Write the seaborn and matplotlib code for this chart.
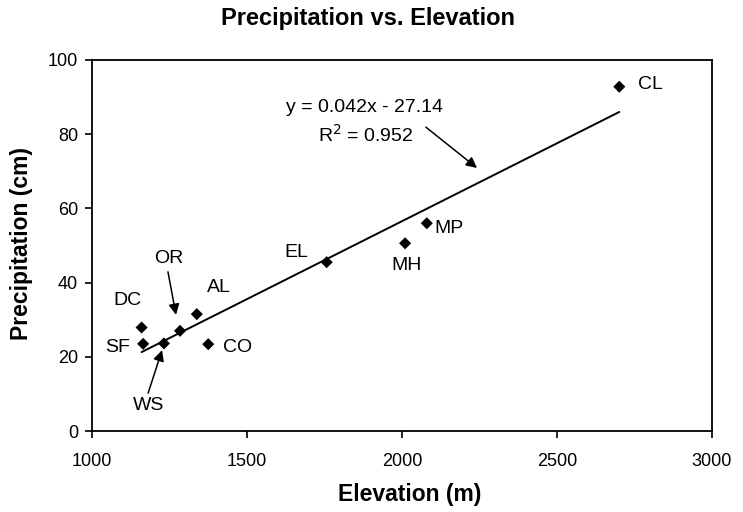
import matplotlib
matplotlib.use("Agg")
import matplotlib.pyplot as plt
import seaborn as sns
import pandas as pd

sites = ["DC", "SF", "WS", "OR", "AL", "CO", "EL", "MH", "MP", "CL"]
elevation = [1160, 1165, 1232, 1284, 1338, 1375, 1757, 2010, 2080, 2701]
precipitation = [27.9, 23.5, 23.6, 27.0, 31.5, 23.4, 45.5, 50.6, 56.0, 92.8]

x_ticks = [1000, 1500, 2000, 2500, 3000]
y_ticks = [0, 20, 40, 60, 80, 100]

df = pd.DataFrame({"Elevation": elevation, "Precipitation": precipitation, "Site": sites})

sns.set_theme(style="ticks")
plt.rcParams["font.family"] = ["Liberation Sans", "DejaVu Sans"]
plt.rcParams["text.color"] = "black"
plt.rcParams["axes.labelcolor"] = "black"

fig = plt.figure(figsize=(7.43, 5.12), dpi=100)
ax = fig.add_axes([92 / 743, 81 / 512, 620 / 743, 371 / 512])

sns.regplot(data=df, x="Elevation", y="Precipitation", ax=ax, ci=None, truncate=True,
            marker="D", color="black",
            scatter_kws={"s": 38, "edgecolor": "none", "alpha": 1, "zorder": 3},
            line_kws={"lw": 1.4, "color": "black", "zorder": 2})

ax.set_xlim(1000, 3000)
ax.set_ylim(0, 100)
ax.set_xticks(x_ticks)
ax.set_yticks(y_ticks)
ax.tick_params(direction="out", length=5, width=1.2, labelsize=13, colors="black",
               top=False, right=False, pad=5)
ax.tick_params(axis="x", pad=10.5)
for s in ax.spines.values():
    s.set_visible(True)
    s.set_color("black")
    s.set_linewidth(1.3)

ax.set_xlabel("Elevation (m)", fontsize=16.5, fontweight="bold")
ax.xaxis.label.set_va("center")
ax.xaxis.set_label_coords((410 - 92) / 620, -(495 - 431) / 371)
ax.set_ylabel("Precipitation (cm)", fontsize=16.5, fontweight="bold")
ax.yaxis.label.set_va("center")
ax.yaxis.set_label_coords((22 - 92) / 620, (431 - 244) / 371)
fig.text(368 / 743, 1 - 19 / 512, "Precipitation vs. Elevation", ha="center", va="center",
         fontsize=17, fontweight="bold")

fs = 14
labels = {
    "CL": (2761, 93.3, "left"),
    "EL": (1658, 48.0, "center"),
    "MH": (2016, 44.5, "center"),
    "MP": (2106, 54.7, "left"),
    "DC": (1113, 35.3, "center"),
    "SF": (1081, 22.6, "center"),
    "AL": (1410, 38.8, "center"),
    "CO": (1468, 22.4, "center"),
    "OR": (1248, 46.6, "center"),
    "WS": (1184, 7.0, "center"),
}
for name, (lx, ly, ha) in labels.items():
    ax.text(lx, ly, name, ha=ha, va="center", fontsize=fs)

arrow_props = dict(arrowstyle="-|>", color="black", lw=1.1, shrinkA=0, shrinkB=0,
                   mutation_scale=16)
ax.annotate("", xy=(1271, 31.3), xytext=(1245, 42.9), arrowprops=arrow_props)
ax.annotate("", xy=(1226, 21.8), xytext=(1181, 10.2), arrowprops=arrow_props)

ax.text(1880, 87.1, "y = 0.042x - 27.14", ha="center", va="center", fontsize=fs)
ax.text(1883, 79.8, "R$^2$ = 0.952", ha="center", va="center", fontsize=fs)
ax.annotate("", xy=(2242, 70.9), xytext=(2077, 81.9), arrowprops=arrow_props)

fig.savefig("out.png", dpi=100)
